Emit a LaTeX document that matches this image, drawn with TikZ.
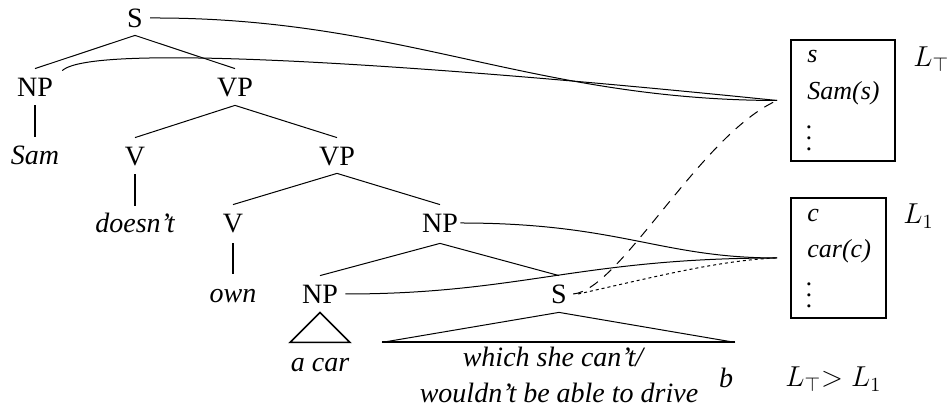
\documentclass[tikz,border=0pt]{standalone}
\usepackage{fontspec}
\setmainfont{Liberation Serif}
\newcommand\myvdots{\vbox{\baselineskip=5.5pt \lineskiplimit=0pt \hbox{.}\hbox{.}\hbox{.}}}
\begin{document}
\begin{tikzpicture}[x=0.5pt,y=-0.5pt,
  every node/.style={font=\fontsize{14}{19.5}\selectfont, inner sep=0pt},
  lab/.style={anchor=base, text height=10pt, text depth=0pt},
  wd/.style={lab, font=\fontsize{14}{19.5}\selectfont\itshape},
  inbox/.style={anchor=base west, font=\fontsize{13}{16}\selectfont\itshape},
  edge/.style={line width=0.5pt},
  stem/.style={line width=1pt},
  link/.style={line width=0.5pt},
  dashlink/.style={line width=0.5pt, dash pattern=on 5pt off 4pt},
  dotlink/.style={line width=0.5pt, dash pattern=on 1.5pt off 1.5pt},
  box/.style={draw, line width=1pt}]
\useasboundingbox (0,0) rectangle (949,410);

% tree labels
\node[lab] (s1) at (135,28) {S};
\node[lab] (np1) at (35,97) {NP};
\node[lab] (vp1) at (235,97) {VP};
\node[wd] (sam) at (35,165) {Sam};
\node[lab] (v1) at (135,166) {V};
\node[lab] (vp2) at (337,166) {VP};
\node[wd] (doesnt) at (135,233) {doesn't};
\node[lab] (v2) at (233,233) {V};
\node[lab] (np2) at (440,233) {NP};
\node[wd] (own) at (233,303) {own};
\node[lab] (np3) at (320,304) {NP};
\node[lab] (s2) at (559,304) {S};
\node[wd] (acar) at (320,372) {a car};
\node[wd] (rel1) at (553,367) {which she can't/};
\node[wd] (rel2) at (559,403) {wouldn't be able to drive};
\node[wd] (b) at (726,388) {b};

% tree edges
\draw[edge] ([yshift=-3.5pt]s1.south) -- ([yshift=4pt]np1.north);
\draw[edge] ([yshift=-3.5pt]s1.south) -- ([yshift=4pt]vp1.north);
\draw[stem] ([yshift=-4pt]np1.south) -- ([yshift=4pt]sam.north);
\draw[edge] ([yshift=-4pt]vp1.south) -- ([yshift=4pt]v1.north);
\draw[edge] ([yshift=-4pt]vp1.south) -- ([yshift=4pt]vp2.north);
\draw[stem] ([yshift=-4pt]v1.south) -- ([yshift=3.5pt]doesnt.north);
\draw[edge] ([yshift=-3.5pt]vp2.south) -- ([yshift=4pt]v2.north);
\draw[edge] ([yshift=-3.5pt]vp2.south) -- ([yshift=4pt]np2.north);
\draw[stem] ([yshift=-5pt]v2.south) -- ([yshift=4.5pt]own.north);
\draw[edge] ([yshift=-5pt]np2.south) -- ([yshift=4pt]np3.north);
\draw[edge] ([yshift=-5pt]np2.south) -- ([yshift=4pt]s2.north);
% triangles
\draw[line width=0.8pt] ([yshift=-4pt]np3.south) -- ++(-30,30) -- ++(60,0) -- cycle;
\coordinate (apx) at ([yshift=-4pt]s2.south);
\draw[edge] (apx) -- ++(-177,30);
\draw[edge] (apx) -- ++(176,30);
\draw[line width=1pt] ([shift={(-177,30)}]apx) -- ++(353,0);

% boxes
\node[box, minimum width=52pt, minimum height=60.5pt] (box1) at (843,100.5) {};
\node[box, minimum width=47.5pt, minimum height=60pt] (box2) at (838.5,258) {};
\coordinate (t1) at ([xshift=-6.5pt]box1.west);
\coordinate (t2) at ([xshift=-6.5pt]box2.west);
\node[inbox] (bs) at (807,63) {s};
\node[inbox] (bsam) at (807,100) {Sam(s)};
\node[inbox] (bd1) at (806,151) {\myvdots};
\node[inbox] (bc) at (807,222) {c};
\node[inbox] (bcar) at (807,258) {car(c)};
\node[inbox] (bd2) at (806,308) {\myvdots};
\node[anchor=base west] (ltop) at (913,67) {$L_{\top}$};
\node[anchor=base west] (lone) at (903,224) {$L_1$};
\node[anchor=base west] (lcmp) at (785,387) {$L_{\top}{>}\;L_1$};

% links
\draw[link] ([xshift=3.5pt]s1.east) .. controls (400,17) and (530,100) .. (t1);
\draw[link] ([xshift=4.5pt,yshift=3pt]np1.north east) .. controls (95,40) and (480,70) .. (t1);
\draw[link] ([xshift=1pt]np2.east) .. controls (620,223) and (660,258) .. (t2);
\draw[link] ([xshift=3.5pt]np3.east) .. controls (520,294) and (580,258) .. (t2);
\draw[dashlink] ([xshift=3pt]s2.east) .. controls (620,290) and (700,135) .. (t1);
\draw[dotlink] ([xshift=5.5pt]s2.east) .. controls (650,278) and (720,260) .. (t2);
\end{tikzpicture}
\end{document}
